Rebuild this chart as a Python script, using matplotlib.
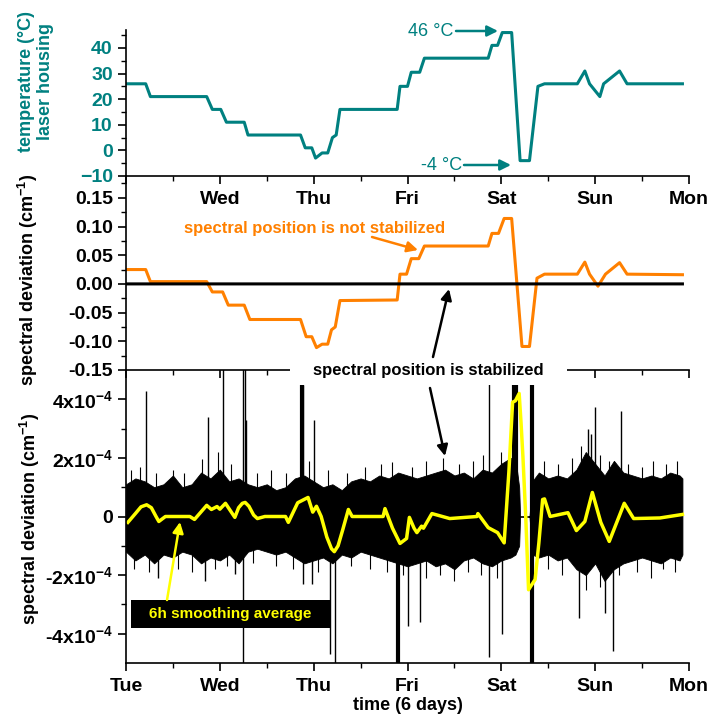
import matplotlib
matplotlib.use('Agg')
import matplotlib.pyplot as plt
from matplotlib.patches import Rectangle, FancyArrowPatch
import numpy as np

plt.rcParams['font.family'] = ['Liberation Sans', 'DejaVu Sans']
plt.rcParams['font.weight'] = 'bold'
plt.rcParams['mathtext.fontset'] = 'custom'
plt.rcParams['mathtext.rm'] = 'Liberation Sans'
plt.rcParams['mathtext.bf'] = 'Liberation Sans:bold'
plt.rcParams['mathtext.default'] = 'bf'

# ---- data (time in days since Tuesday 0:00) ----
day_labels = ['Tue', 'Wed', 'Thu', 'Fri', 'Sat', 'Sun', 'Mon']

# laser housing temperature (deg C)
temp_t = [0.0, 0.21, 0.26, 0.86, 0.92, 1.01, 1.07, 1.26, 1.30, 1.86, 1.91, 1.98, 2.02,
          2.09, 2.15, 2.20, 2.24, 2.28, 2.89, 2.92, 3.00, 3.04, 3.13, 3.18, 3.86, 3.90,
          3.96, 4.01, 4.11, 4.20, 4.30, 4.39, 4.46, 4.81, 4.89, 4.94, 5.05, 5.09, 5.26,
          5.34, 5.93]
temp_v = [26, 26, 21, 21, 16, 16, 11, 11, 6, 6, 1, 1, -3,
          -1, -1, 5, 6, 16, 16, 25, 25, 30.5, 30.5, 36, 36, 41,
          41, 46, 46, -4, -4, 25, 26, 26, 31, 26, 21, 26, 31,
          26, 26]

# spectral deviation, not stabilized (cm-1)
free_t = [0.0, 0.21, 0.26, 0.86, 0.92, 1.03, 1.09, 1.26, 1.32, 1.86, 1.92, 1.98, 2.03,
          2.09, 2.15, 2.19, 2.23, 2.28, 2.89, 2.92, 2.99, 3.04, 3.12, 3.18, 3.86, 3.90,
          3.97, 4.03, 4.11, 4.22, 4.30, 4.38, 4.46, 4.81, 4.89, 4.94, 5.03, 5.11, 5.26,
          5.34, 5.93]
free_v = [0.025, 0.025, 0.004, 0.004, -0.014, -0.014, -0.037, -0.037, -0.062, -0.062,
          -0.092, -0.092, -0.111, -0.105, -0.105, -0.080, -0.075, -0.029, -0.028, 0.017,
          0.017, 0.044, 0.044, 0.066, 0.066, 0.088, 0.088, 0.114, 0.114, -0.109, -0.109,
          0.010, 0.017, 0.017, 0.038, 0.017, -0.004, 0.017, 0.037, 0.017, 0.016]

# stabilized: noise band envelope (units of 1e-4 cm-1)
env_t = [0.0, 0.1, 0.2, 0.3, 0.4, 0.5, 0.6, 0.7, 0.8, 0.9, 1.0, 1.1, 1.2, 1.3, 1.4, 1.5,
         1.6, 1.7, 1.8, 1.9, 2.0, 2.1, 2.2, 2.3, 2.4, 2.5, 2.6, 2.7, 2.8, 2.9, 3.0, 3.1,
         3.2, 3.3, 3.4, 3.5, 3.6, 3.7, 3.8, 3.9, 4.0, 4.1, 4.15, 4.19, 4.2, 4.3, 4.33,
         4.4, 4.5, 4.6, 4.7, 4.8, 4.9, 5.0, 5.1, 5.2, 5.3, 5.4, 5.5, 5.6, 5.7, 5.8, 5.9,
         5.93]
env_hi = [1.1, 1.3, 1.2, 1.0, 1.1, 1.4, 1.0, 1.1, 1.5, 1.3, 1.6, 1.2, 1.3, 1.1, 1.0, 1.1,
          0.9, 1.0, 1.3, 1.4, 1.2, 1.0, 1.1, 0.9, 1.2, 1.3, 1.2, 1.4, 1.3, 1.5, 1.4, 1.3,
          1.4, 1.5, 1.6, 1.4, 1.5, 1.3, 1.6, 1.5, 1.8, 2.0, 2.0, 1.0, 0.0, 0.0, 1.2,
          1.5, 1.3, 1.4, 1.3, 1.6, 2.2, 1.8, 1.4, 1.9, 1.5, 1.4, 1.3, 1.4, 1.3, 1.5, 1.4,
          1.3]
env_lo = [-1.2, -1.5, -1.3, -1.6, -1.3, -1.4, -1.2, -1.3, -1.6, -1.4, -1.5, -1.3, -1.6,
          -1.2, -1.1, -1.2, -1.3, -1.2, -1.4, -1.6, -1.5, -1.4, -1.6, -1.3, -1.4, -1.2,
          -1.3, -1.4, -1.5, -1.6, -1.7, -1.6, -1.5, -1.7, -1.6, -1.8, -1.5, -1.4, -1.6,
          -1.7, -1.5, -1.4, -1.3, -1.0, 0.0, 0.0, -1.3, -1.4, -1.3, -1.5, -1.4, -1.8,
          -2.0, -1.6, -2.2, -1.8, -1.6, -1.5, -1.4, -1.5, -1.6, -1.4, -1.5, -1.3]

# small noise tips (units of 1e-4)
tip_up_t = [0.05, 0.15, 0.32, 0.50, 0.62, 0.81, 0.98, 1.12, 1.40, 1.55, 1.70, 1.95, 2.15,
            2.35, 2.55, 2.72, 2.84, 3.05, 3.20, 3.38, 3.55, 3.70, 3.80, 4.00, 4.45, 4.60,
            4.75, 4.85, 5.05, 5.15, 5.35, 5.50, 5.62, 5.75, 5.87]
tip_up_v = [1.6, 1.7, 1.5, 1.6, 1.5, 1.95, 2.2, 1.8, 1.5, 1.6, 1.5, 1.9, 1.6,
            1.5, 1.7, 1.8, 1.85, 1.7, 1.9, 2.0, 1.8, 1.9, 2.1, 2.2, 1.9, 1.8,
            2.0, 2.4, 2.1, 1.9, 1.8, 1.7, 1.9, 1.8, 1.9]
tip_dn_t = [0.08, 0.25, 0.55, 0.70, 0.95, 1.08, 1.35, 1.60, 1.78, 2.05, 2.40, 2.60, 2.78,
            2.95, 3.20, 3.35, 3.50, 3.65, 3.78, 3.95, 4.50, 4.65, 4.90, 5.05, 5.25, 5.45,
            5.60, 5.72, 5.85]
tip_dn_v = [-1.8, -1.9, -1.8, -1.9, -1.8, -1.7, -1.6, -1.7, -1.8, -1.9, -1.7, -1.8, -1.9,
            -2.0, -2.1, -2.0, -2.2, -1.9, -2.0, -2.1, -1.8, -2.0, -2.5, -2.4, -2.0, -1.9,
            -2.1, -1.8, -1.9]

# large spikes (units of 1e-4)
spike_up_t = [0.21, 0.87, 1.03, 1.245, 1.265, 1.28, 1.87, 1.885, 2.00, 3.87, 4.33, 4.92,
              4.96, 5.00, 5.28]
spike_up_v = [4.3, 3.4, 5.5, 5.5, 5.5, 3.3, 4.5, 4.5, 3.3, 5.5, 5.5, 3.0,
              2.8, 3.75, 3.6]
spike_dn_t = [0.34, 0.84, 1.16, 1.245, 1.89, 1.98, 2.17, 2.23, 2.90, 3.01, 3.13, 3.87,
              4.01, 4.33, 4.83, 5.10, 5.19]
spike_dn_v = [-2.1, -2.2, -1.95, -5.5, -2.3, -2.3, -4.7, -5.5, -5.5, -3.75, -3.6, -4.8,
              -4.0, -5.5, -3.45, -3.3, -4.6]
thick_t = [1.875, 2.90, 4.135, 4.155, 4.33]
thick_lo = [0.0, -5.5, 0.0, 0.0, -5.5]
thick_hi = [4.5, 0.0, 5.5, 5.5, 5.5]

# 6 h smoothing average (units of 1e-4)
avg_t = [0.02, 0.10, 0.16, 0.22, 0.27, 0.32, 0.35, 0.42, 0.68, 0.73, 0.86, 0.91, 0.97,
         1.00, 1.06, 1.16, 1.20, 1.24, 1.27, 1.31, 1.36, 1.40, 1.48, 1.70, 1.73, 1.83,
         1.94, 1.99, 2.03, 2.08, 2.14, 2.19, 2.22, 2.26, 2.31, 2.37, 2.41, 2.74, 2.76,
         2.84, 2.92, 2.99, 3.02, 3.07, 3.10, 3.15, 3.17, 3.26, 3.45, 3.74, 3.75, 3.86,
         3.96, 4.03, 4.08, 4.12, 4.15, 4.19, 4.21, 4.23, 4.26, 4.29, 4.36, 4.40, 4.44,
         4.46, 4.52, 4.71, 4.80, 4.89, 4.97, 5.06, 5.15, 5.31, 5.41, 5.69, 5.93]
avg_v = [-0.2, 0.1, 0.33, 0.4, 0.3, 0.0, -0.17, 0.0, 0.0, -0.1, 0.38, 0.24, 0.34,
         0.25, 0.45, -0.03, 0.3, 0.45, 0.48, 0.35, 0.05, -0.07, 0.0, 0.0, -0.2, 0.47,
         0.65, 0.15, 0.35, 0.0, -0.7, -1.1, -1.2, -1.0, -0.45, 0.24, 0.0, 0.0, 0.27,
         -0.4, -0.92, -0.75, -0.03, -0.4, -0.55, -0.33, -0.4, 0.1, -0.07, 0.0, 0.1, -0.38,
         -0.55, -0.9, 1.5, 3.9, 3.95, 4.2, 3.2, 2.05, 0.0, -2.5, -2.15, -0.9, 0.58,
         0.6, 0.0, 0.13, -0.48, -0.17, 0.82, -0.2, -0.85, 0.45, -0.07, -0.05, 0.07]

scale = 1e-4
teal = '#008080'
orange = '#FF8000'
yellow = '#FFFF00'

W, H = 710, 723


def px(x, y):
    return (x / W, 1 - y / H)


fig = plt.figure(figsize=(W / 100, H / 100), dpi=100)
left, width = 126 / W, 563 / W
ax1 = fig.add_axes([left, 1 - 176 / H, width, 146 / H])
ax2 = fig.add_axes([left, 1 - 370 / H, width, 194 / H])
ax3 = fig.add_axes([left, 1 - 663 / H, width, 293 / H])

for ax in (ax1, ax2, ax3):
    ax.set_facecolor('none')
    ax.spines['top'].set_visible(False)
    ax.spines['right'].set_visible(False)
    for s in ('left', 'bottom'):
        ax.spines[s].set_linewidth(1.2)
    ax.set_xlim(0, 6)
    ax.set_xticks(range(7))
    ax.set_xticks(np.arange(0.5, 6, 1.0), minor=True)
    ax.tick_params(which='major', direction='out', length=6, width=1.2, labelsize=14)
    ax.tick_params(which='minor', direction='out', length=3.5, width=1.0)

# top: temperature
ax1.plot(temp_t, temp_v, color=teal, lw=2.2)
ax1.set_ylim(-10, 47)
ax1.set_yticks([-10, 0, 10, 20, 30, 40])
ax1.set_yticks(np.arange(-5, 46, 10), minor=True)
ax1.tick_params(axis='y', labelcolor=teal)
ax1.set_xticklabels([''] + day_labels[1:])
ax1.tick_params(axis='x', pad=5)

# middle: spectral deviation
ax2.plot(free_t, free_v, color=orange, lw=2.2)
env_mid = [(h + l) / 2 * scale for h, l in zip(env_hi, env_lo)]
ax2.plot(env_t, env_mid, color='black', lw=2.2)
ax2.set_ylim(-0.15, 0.188)
ax2.set_yticks([-0.15, -0.10, -0.05, 0.0, 0.05, 0.10, 0.15])
ax2.set_yticklabels(['-0.15', '-0.10', '-0.05', '0.00', '0.05', '0.10', '0.15'])
ax2.set_yticks(np.arange(-0.125, 0.18, 0.05), minor=True)
ax2.set_xticklabels([])

# bottom: stabilized
ax3.fill_between(env_t, np.array(env_lo) * scale, np.array(env_hi) * scale,
                 color='black', lw=0.6)
ax3.vlines(tip_up_t, 0, np.array(tip_up_v) * scale, color='black', lw=0.8)
ax3.vlines(tip_dn_t, np.array(tip_dn_v) * scale, 0, color='black', lw=0.8)
ax3.vlines(spike_up_t, 0, np.array(spike_up_v) * scale, color='black', lw=1.0)
ax3.vlines(spike_dn_t, np.array(spike_dn_v) * scale, 0, color='black', lw=1.0)
ax3.vlines(thick_t, np.array(thick_lo) * scale, np.array(thick_hi) * scale,
           color='black', lw=3)
ax3.plot(avg_t, np.array(avg_v) * scale, color=yellow, lw=2.5)
ax3.set_ylim(-5e-4, 5e-4)
ax3.set_yticks([-4e-4, -2e-4, 0, 2e-4, 4e-4])
ax3.set_yticklabels(['-4x10$^{-4}$', '-2x10$^{-4}$', '0', '2x10$^{-4}$', '4x10$^{-4}$'])
ax3.set_yticks([-3e-4, -1e-4, 1e-4, 3e-4], minor=True)
ax3.set_xticklabels(day_labels)
ax3.tick_params(axis='x', pad=5)
ax3.set_xlabel('time (6 days)', fontsize=13, fontweight='bold', labelpad=1)

# y labels
fig.text(36 / W, 1 - 82 / H, 'temperature (°C)\nlaser housing', rotation=90,
         ha='center', va='center', color=teal, fontsize=13, fontweight='bold',
         linespacing=1.2, multialignment='center')
fig.text(28 / W, 1 - 280 / H, 'spectral deviation (cm$^{-1}$)', rotation=90,
         ha='center', va='center', fontsize=13, fontweight='bold')
fig.text(30 / W, 1 - 519 / H, 'spectral deviation (cm$^{-1}$)', rotation=90,
         ha='center', va='center', fontsize=13, fontweight='bold')


def arrow(p0, p1, color):
    fig.add_artist(FancyArrowPatch(px(*p0), px(*p1), transform=fig.transFigure,
                                   arrowstyle='-|>', mutation_scale=16, lw=1.8,
                                   color=color, shrinkA=0, shrinkB=0, zorder=6))


# temperature annotations
fig.text(*px(431, 31), '46 °C', ha='center', va='center', color=teal,
         fontsize=13, fontweight='normal')
arrow((456, 31), (498, 31), teal)
fig.text(*px(442, 165), '-4 °C', ha='center', va='center', color=teal,
         fontsize=13, fontweight='normal')
arrow((464, 165), (511, 165), teal)

# middle annotation
fig.text(*px(315, 228), 'spectral position is not stabilized', ha='center',
         va='center', color=orange, fontsize=12, fontweight='bold')
arrow((372, 237), (418, 250), orange)

# stabilized label
fig.add_artist(Rectangle(px(290, 385), 277 / W, 28 / H, transform=fig.transFigure,
                         facecolor='white', edgecolor='none', zorder=5))
fig.text(*px(428, 371), 'spectral position is stabilized', ha='center', va='center',
         color='black', fontsize=12, fontweight='bold', zorder=7)
arrow((433, 357), (449, 289), 'black')
arrow((430, 388), (445, 456), 'black')

# smoothing label
fig.add_artist(Rectangle(px(131, 628), 199 / W, 28 / H, transform=fig.transFigure,
                         facecolor='black', edgecolor='none', zorder=5))
fig.text(*px(230, 614), '6h smoothing average', ha='center', va='center',
         color=yellow, fontsize=11, fontweight='bold', zorder=7)
arrow((167, 600), (180, 522), yellow)

fig.savefig('out.png', dpi=100)
